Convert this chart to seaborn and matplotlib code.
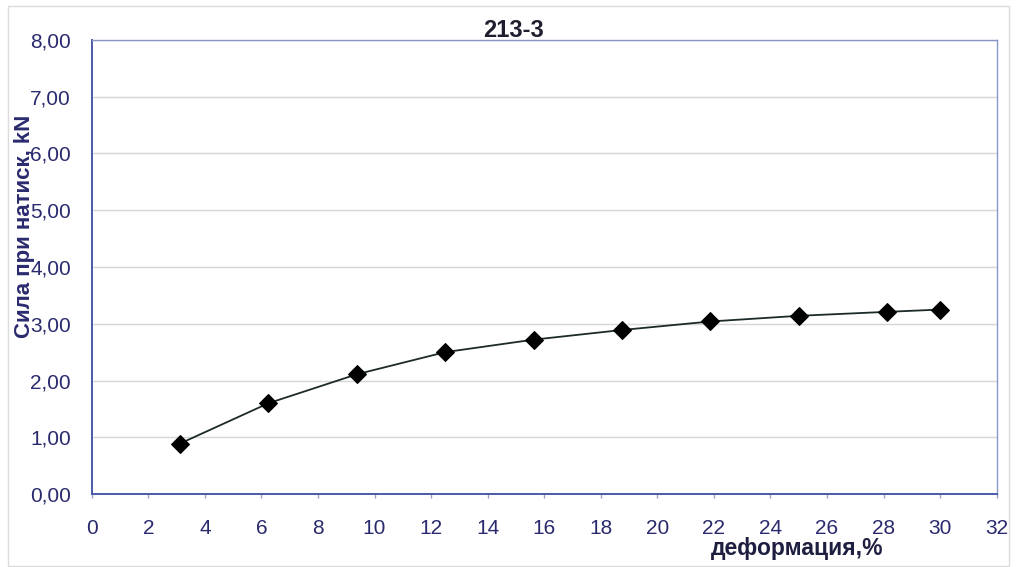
import matplotlib
matplotlib.use("Agg")
import matplotlib.pyplot as plt
from matplotlib.patches import Rectangle
from matplotlib.ticker import FuncFormatter, MultipleLocator
import pandas as pd
import seaborn as sns

# Deformation (%) and pressing force (kN) for specimen 213-3
deformation = [3.125, 6.25, 9.375, 12.5, 15.625, 18.75, 21.875, 25.0, 28.125, 30.0]
force = [0.89, 1.60, 2.11, 2.50, 2.72, 2.89, 3.04, 3.14, 3.21, 3.25]

title = "213-3"
x_label = "деформация,%"
y_label = "Сила при натиск, kN"

sns.set_style("white")
plt.rcParams["font.family"] = ["Liberation Sans", "DejaVu Sans"]

navy = "#2a2a6e"
df = pd.DataFrame({"deformation": deformation, "force": force})

fig = plt.figure(figsize=(10.17, 5.67), dpi=100)
ax = fig.add_axes([0.0902, 0.1287, 0.8898, 0.8008])

sns.lineplot(data=df, x="deformation", y="force", ax=ax, color="#1c2a2a",
             linewidth=1.3, marker="D", markersize=9, markerfacecolor="black",
             markeredgecolor="black", zorder=3)

ax.set_xlim(0, 32)
ax.set_ylim(0, 8)
ax.xaxis.set_major_locator(MultipleLocator(2))
ax.yaxis.set_major_locator(MultipleLocator(1))
ax.yaxis.set_major_formatter(FuncFormatter(lambda v, _: f"{v:.2f}".replace(".", ",")))
ax.xaxis.set_major_formatter(FuncFormatter(lambda v, _: f"{int(v)}"))

ax.grid(axis="y", color="#d6d6d6", linewidth=1.0)
ax.grid(axis="x", visible=False)
ax.set_axisbelow(True)

for side in ("left", "bottom"):
    ax.spines[side].set_color("#4b5aa8")
    ax.spines[side].set_linewidth(1.4)
for side in ("top", "right"):
    ax.spines[side].set_color("#8a96c8")
    ax.spines[side].set_linewidth(1.0)
    ax.spines[side].set_visible(True)

ax.tick_params(axis="x", colors="#9aa0c0", length=3, width=1, direction="out",
               labelcolor=navy, labelsize=15, pad=15, bottom=True)
ax.tick_params(axis="y", length=0, labelcolor=navy, labelsize=15, pad=15)

ax.set_xlabel("")
ax.set_ylabel("")
fig.text(0.784, 0.033, x_label, fontsize=16.5, fontweight="bold", color="#1e1e40",
         ha="center", va="center")
fig.text(0.024, 0.601, y_label, fontsize=16, fontweight="bold", color=navy,
         rotation=90, ha="center", va="center")
fig.text(0.505, 0.946, title, fontsize=17, fontweight="bold", color="#1e1e2e",
         ha="center", va="center")

# thin frame around the whole chart area
fig.patches.append(Rectangle((8 / 1017, 1 - 566 / 567), 1001 / 1017, 560 / 567,
                             transform=fig.transFigure, fill=False,
                             edgecolor="#dcdcdc", linewidth=1.0))

fig.savefig("out.png", dpi=100, facecolor="white")
